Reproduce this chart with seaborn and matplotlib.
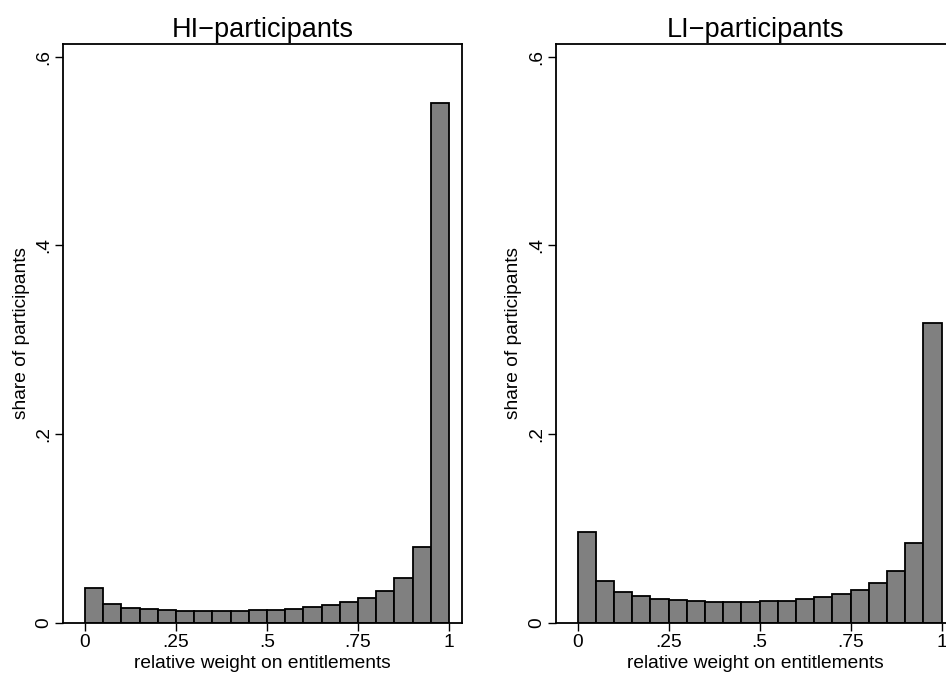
import numpy as np
import pandas as pd
import matplotlib
matplotlib.use('Agg')
import matplotlib.pyplot as plt
import seaborn as sns

# 20 bins of width .05 between 0 and 1
bin_edges = np.linspace(0, 1, 21)
bin_mids = (bin_edges[:-1] + bin_edges[1:]) / 2

hi_share = [0.037, 0.020, 0.016, 0.0142, 0.0131, 0.0124, 0.0124, 0.0124, 0.0124, 0.0130,
            0.0138, 0.0148, 0.0163, 0.0190, 0.0216, 0.0259, 0.0333, 0.0470, 0.0800, 0.551]
li_share = [0.096, 0.044, 0.033, 0.028, 0.0254, 0.0236, 0.0226, 0.0218, 0.0218, 0.0218,
            0.0226, 0.0233, 0.0247, 0.0271, 0.0303, 0.0350, 0.0417, 0.0547, 0.0844, 0.318]

titles = ['HI\u2212participants', 'LI\u2212participants']
x_ticks = [0, 0.25, 0.5, 0.75, 1]
x_ticklabels = ['0', '.25', '.5', '.75', '1']
y_ticks = [0, 0.2, 0.4, 0.6]
y_ticklabels = ['0', '.2', '.4', '.6']

sns.set_style('white')
plt.rcParams['font.family'] = ['Liberation Sans', 'DejaVu Sans']
plt.rcParams['text.color'] = 'black'
plt.rcParams['axes.labelcolor'] = 'black'
plt.rcParams['xtick.color'] = 'black'
plt.rcParams['ytick.color'] = 'black'

fig = plt.figure(figsize=(9.46, 6.77), dpi=100)
ax_left = fig.add_axes([0.0669, 0.0802, 0.4211, 0.8544])
ax_right = fig.add_axes([0.5877, 0.0802, 0.4211, 0.8544])

for ax, shares, title in zip([ax_left, ax_right], [hi_share, li_share], titles):
    df = pd.DataFrame({'x': bin_mids, 'share': shares})
    sns.histplot(data=df, x='x', weights='share', binwidth=0.05, binrange=(0, 1), stat='count',
                 color='#808080', edgecolor='black', linewidth=1.3, alpha=1, ax=ax)
    ax.set_xlim(-0.0596, 1.035)
    ax.set_ylim(0, 0.613)
    ax.set_xticks(x_ticks)
    ax.set_xticklabels(x_ticklabels, fontsize=13.8)
    ax.set_yticks(y_ticks)
    ax.set_yticklabels(y_ticklabels, fontsize=13.8, rotation=90, va='center')
    ax.tick_params(axis='both', direction='out', length=6, width=1, color='black',
                   bottom=True, left=True, pad=2)
    for s in ax.spines.values():
        s.set_color('black')
        s.set_linewidth(1.3)
    ax.set_xlabel('relative weight on entitlements', fontsize=13.8, labelpad=3)
    ax.set_ylabel('share of participants', fontsize=13.8, labelpad=4)
    ax.set_title(title, fontsize=19.5, pad=5)

fig.savefig('out.png', dpi=100)
